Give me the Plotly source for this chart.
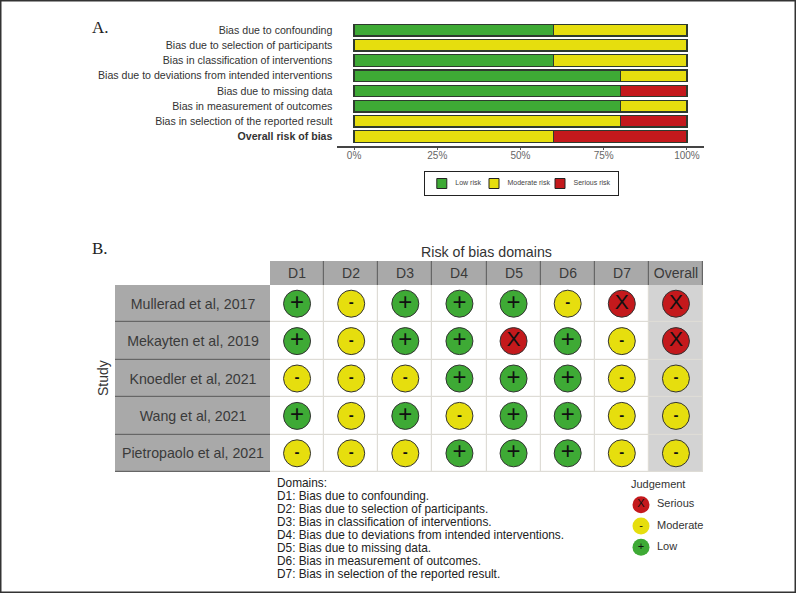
import plotly.graph_objects as go

W, H = 796, 593

# ---- data, panel A
domains_long = ["Bias due to confounding", "Bias due to selection of participants",
                "Bias in classification of interventions", "Bias due to deviations from intended interventions",
                "Bias due to missing data", "Bias in measurement of outcomes",
                "Bias in selection of the reported result", "Overall risk of bias"]
low_risk = [60, 0, 60, 80, 80, 80, 0, 0]
moderate_risk = [40, 100, 40, 20, 0, 20, 80, 60]
serious_risk = [0, 0, 0, 0, 20, 0, 20, 40]
pct_ticks = [0, 25, 50, 75, 100]
pct_labels = ["0%", "25%", "50%", "75%", "100%"]
risk_names = ["Low risk", "Moderate risk", "Serious risk"]

# ---- data, panel B
studies = ["Mullerad et al, 2017", "Mekayten et al, 2019", "Knoedler et al, 2021",
           "Wang et al, 2021", "Pietropaolo et al, 2021"]
domain_codes = ["D1", "D2", "D3", "D4", "D5", "D6", "D7", "Overall"]
judgements = [
    ["+", "-", "+", "+", "+", "-", "X", "X"],
    ["+", "-", "+", "+", "X", "+", "-", "X"],
    ["-", "-", "-", "+", "+", "+", "-", "-"],
    ["+", "-", "+", "-", "+", "+", "-", "-"],
    ["-", "-", "-", "+", "+", "+", "-", "-"],
]
domain_notes = ["Domains:", "D1: Bias due to confounding.", "D2: Bias due to selection of participants.",
                "D3: Bias in classification of interventions.", "D4: Bias due to deviations from intended interventions.",
                "D5: Bias due to missing data.", "D6: Bias in measurement of outcomes.",
                "D7: Bias in selection of the reported result."]
legend_glyphs = ["X", "-", "+"]
legend_names = ["Serious", "Moderate", "Low"]

# ---- style
GREEN, YELLOW, RED = "#3eaa35", "#e6de0e", "#c4191c"
FILL = {"+": GREEN, "-": YELLOW, "X": RED}
FONT = "Liberation Sans"
GLYPH_SIZE = {"+": 24, "-": 15, "X": 21}
GLYPH_WEIGHT = {"+": "normal", "-": "bold", "X": "normal"}
KEY_SLOTS = [441.8, 494, 560]   # legend-key slots inside the panel A legend box
STRIP = "#a9a9a9"
STRIP_GAP = "#666666"
GRID = "#dedcd6"

def hdom(a, b):
    return [a / W, b / W]

def vdom(top, bottom):
    return [1 - bottom / H, 1 - top / H]

hidden = dict(visible=False, fixedrange=True)
fig = go.Figure()

# ---- panel A bars (x, y)
for vals, color, name in zip([low_risk, moderate_risk, serious_risk], [GREEN, YELLOW, RED], risk_names):
    fig.add_bar(x=vals, y=domains_long, orientation="h", name=name, width=0.76,
                marker=dict(color=color, line=dict(color="#2e3a2e", width=1.3)), showlegend=False,
                xaxis="x", yaxis="y")

# ---- panel A legend (x2, y2)
for slot, name, color in zip(KEY_SLOTS, risk_names, [GREEN, YELLOW, RED]):
    fig.add_scatter(x=[slot], y=[0], mode="markers",
                    marker=dict(symbol="square", size=10, color=color, line=dict(color="#222222", width=1)),
                    showlegend=False, xaxis="x2", yaxis="y2")
    fig.add_scatter(x=[slot + 13.5], y=[0], mode="text", text=[name], textposition="middle right",
                    textfont=dict(size=7, color="#444444", family=FONT),
                    showlegend=False, xaxis="x2", yaxis="y2")

# ---- panel B header strip (x3, y3)
fig.add_heatmap(x=domain_codes, y=[0], z=[[1] * len(domain_codes)], text=[domain_codes],
                texttemplate="%{text}", textfont=dict(size=14, color="#3a3a3a", family=FONT),
                colorscale=[[0, STRIP], [1, STRIP]], showscale=False, xgap=1.2, hoverinfo="skip",
                xaxis="x3", yaxis="y3")

# ---- panel B row strip (x4, y4)
fig.add_heatmap(x=[0], y=studies, z=[[1] for _ in studies], text=[[s] for s in studies],
                texttemplate="%{text}", textfont=dict(size=14.2, color="#3a3a3a", family=FONT),
                colorscale=[[0, STRIP], [1, STRIP]], showscale=False, ygap=1.2, hoverinfo="skip",
                xaxis="x4", yaxis="y4")

# ---- panel B cells and judgements (x5, y5)
fig.add_heatmap(x=domain_codes, y=studies,
                z=[[1 if d == "Overall" else 0 for d in domain_codes] for _ in studies],
                colorscale=[[0, "#ffffff"], [1, "#d3d3d3"]], showscale=False, xgap=1.2, ygap=1.2,
                hoverinfo="skip", xaxis="x5", yaxis="y5")
for glyph in FILL:
    xs, ys = [], []
    for s, row in zip(studies, judgements):
        for d, j in zip(domain_codes, row):
            if j == glyph:
                xs.append(d)
                ys.append(s)
    fig.add_scatter(x=xs, y=ys, mode="markers+text", text=[glyph] * len(xs), textposition="middle center",
                    textfont=dict(size=GLYPH_SIZE[glyph], color="#111111", family=FONT, weight=GLYPH_WEIGHT[glyph]),
                    marker=dict(size=27, color=FILL[glyph], line=dict(color="#333333", width=1)),
                    showlegend=False, xaxis="x5", yaxis="y5")

# ---- domain notes (x6, y6)
fig.add_scatter(x=[0] * len(domain_notes), y=list(range(len(domain_notes))), mode="text", text=domain_notes,
                textposition="middle right", textfont=dict(size=11.85, color="#222222", family=FONT),
                showlegend=False, xaxis="x6", yaxis="y6")

# ---- judgement legend (x7, y7)
fig.add_scatter(x=[0] * 3, y=legend_names, mode="markers+text", text=legend_glyphs, textposition="middle center",
                textfont=dict(size=11, color="#111111", family=FONT),
                marker=dict(size=17, color=[FILL[g] for g in legend_glyphs]),
                showlegend=False, xaxis="x7", yaxis="y7")
fig.add_scatter(x=[16] * 3, y=legend_names, mode="text", text=legend_names, textposition="middle right",
                textfont=dict(size=11, color="#333333", family=FONT),
                showlegend=False, xaxis="x7", yaxis="y7")

fig.update_layout(
    width=W, height=H, margin=dict(l=0, r=0, t=0, b=0), autosize=False,
    paper_bgcolor="white", plot_bgcolor="white", barmode="stack", showlegend=False,
    font=dict(family=FONT, color="#333333"),
    xaxis=dict(domain=hdom(337.4, 703.6), range=[-5, 105], tickvals=pct_ticks, ticktext=pct_labels,
               ticks="outside", ticklen=2, tickcolor="#555555", showline=True, linecolor="#444444", linewidth=1.5,
               showgrid=False, zeroline=False, tickfont=dict(size=10, color="#666666", family=FONT),
               ticklabelstandoff=-3, anchor="y", fixedrange=True),
    yaxis=dict(domain=vdom(21, 146), categoryorder="array", categoryarray=domains_long,
               tickvals=domains_long,
               ticktext=domains_long[:-1] + ["<b>" + domains_long[-1] + "</b>"],
               range=[7.62, -0.6], showgrid=False, showline=False, ticks="", zeroline=False,
               tickfont=dict(size=10.6, color="#333333", family=FONT), ticklabelstandoff=4,
               anchor="x", fixedrange=True),
    xaxis2=dict(domain=hdom(425, 618), range=[425, 618], anchor="y2", showline=True, mirror=True, linecolor="#222222",
                linewidth=1.2, showticklabels=False, ticks="", showgrid=False, zeroline=False, fixedrange=True),
    yaxis2=dict(domain=vdom(172, 195), range=[-1, 1], anchor="x2", showline=True, mirror=True, linecolor="#222222",
                linewidth=1.2, showticklabels=False, ticks="", showgrid=False, zeroline=False, fixedrange=True),
    xaxis3=dict(domain=hdom(270, 703), range=[-0.5, 7.5], anchor="y3", **hidden, categoryorder="array", categoryarray=domain_codes),
    yaxis3=dict(domain=vdom(261, 285), range=[-0.5, 0.5], anchor="x3", **hidden),
    xaxis4=dict(domain=hdom(115, 270), range=[-0.5, 0.5], anchor="y4", **hidden),
    yaxis4=dict(domain=vdom(285, 472), range=[4.5, -0.5], anchor="x4", **hidden, categoryorder="array", categoryarray=studies),
    xaxis5=dict(domain=hdom(270, 703), range=[-0.5, 7.5], anchor="y5", **hidden, categoryorder="array", categoryarray=domain_codes),
    yaxis5=dict(domain=vdom(285, 472), range=[4.5, -0.5], anchor="x5", **hidden, categoryorder="array", categoryarray=studies),
    xaxis6=dict(domain=hdom(277, 620), range=[0, 1], anchor="y6", **hidden),
    yaxis6=dict(domain=vdom(476, 584), range=[7.7, -0.6], anchor="x6", **hidden),
    xaxis7=dict(domain=hdom(625, 710), range=[-16, 69], anchor="y7", **hidden),
    yaxis7=dict(domain=vdom(494, 558), range=[2.5, -0.5], anchor="x7", **hidden,
                categoryorder="array", categoryarray=legend_names),
    shapes=[
        dict(type="rect", xref="x3 domain", yref="y3 domain", x0=0, x1=1, y0=0, y1=1, layer="below",
             fillcolor=STRIP_GAP, line=dict(width=0)),
        dict(type="rect", xref="x4 domain", yref="y4 domain", x0=0, x1=1, y0=0, y1=1, layer="below",
             fillcolor=STRIP_GAP, line=dict(width=0)),
        dict(type="rect", xref="x5 domain", yref="y5 domain", x0=0, x1=1, y0=0, y1=1, layer="below",
             fillcolor=GRID, line=dict(width=0)),
        dict(type="rect", xref="paper", yref="paper", x0=0, x1=1, y0=0, y1=1, layer="above",
             fillcolor="rgba(0,0,0,0)", line=dict(color="#333333", width=3)),
    ],
    annotations=[
        dict(text="A.", x=90 / W, y=1 - 28 / H, xref="paper", yref="paper", xanchor="left", yanchor="middle",
             showarrow=False, font=dict(family="Liberation Serif", size=17, color="#222222")),
        dict(text="B.", x=90 / W, y=1 - 249 / H, xref="paper", yref="paper", xanchor="left", yanchor="middle",
             showarrow=False, font=dict(family="Liberation Serif", size=17, color="#222222")),
        dict(text="Risk of bias domains", x=486 / W, y=1 - 252 / H, xref="paper", yref="paper", xanchor="center",
             yanchor="middle", showarrow=False, font=dict(size=14.2, color="#333333", family=FONT)),
        dict(text="Study", x=103 / W, y=1 - 378 / H, xref="paper", yref="paper", xanchor="center", yanchor="middle",
             textangle=-90, showarrow=False, font=dict(size=14, color="#333333", family=FONT)),
        dict(text="Judgement", x=629 / W, y=1 - 484 / H, xref="paper", yref="paper", xanchor="left", yanchor="middle",
             showarrow=False, font=dict(size=11, color="#333333", family=FONT)),
    ],
)
fig.write_html("out.html", post_script="document.body.style.margin='0';", config={"displayModeBar": False})
